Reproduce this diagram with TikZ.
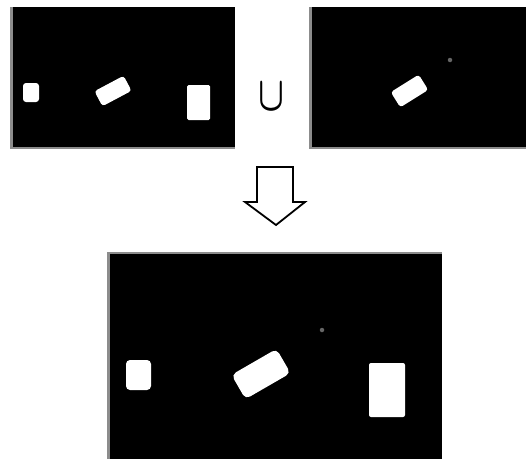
\documentclass[tikz,border=0pt]{standalone}
\begin{document}
\begin{tikzpicture}[x=1pt,y=1pt,
  panel/.style={fill=black,draw=none},
  rim/.style={fill=black!45,draw=none},
  blob/.style={fill=white,draw=none,rounded corners=3pt,inner sep=0pt,outer sep=0pt},
  speck/.style={fill=black!60,draw=none,circle,inner sep=0pt,minimum size=4.5pt},
  bigarrow/.style={draw=black,line width=1.8pt,fill=white,line join=miter}]
\useasboundingbox (0,0) rectangle (526,459);
\fill[white] (0,0) rectangle (526,459);
% top-left panel
\fill[rim] (10,310) rectangle (235,452);
\fill[panel] (12.5,312.5) rectangle (235,452);
\node[blob,minimum width=16pt,minimum height=19pt] (a1) at (31,366.5) {};
\node[blob,minimum width=33pt,minimum height=17pt,rotate=28] (a2) at (113,368) {};
\node[blob,minimum width=23pt,minimum height=35pt,rounded corners=1.5pt] (a3) at (198.5,356.5) {};
% union sign
\node[inner sep=0pt] (cup) at (271.5,362) {\resizebox{26pt}{27pt}{\boldmath$\cup$}};
% top-right panel
\fill[rim] (309,310) rectangle (526,452);
\fill[panel] (311.5,312.5) rectangle (526,452);
\node[blob,minimum width=33pt,minimum height=18pt,rotate=32] (b1) at (409.5,368) {};
\node[speck] (b2) at (450,399) {};
% arrow
\draw[bigarrow] (257,292) -- (293,292) -- (293,257) -- (305,257) -- (276,234) -- (245,257) -- (257,257) -- cycle;
% bottom panel
\fill[rim] (107,0) rectangle (442,207);
\fill[panel] (109.5,0) rectangle (442,205.5);
\node[blob,minimum width=25pt,minimum height=30pt,rounded corners=4pt] (c1) at (138.5,84) {};
\node[blob,minimum width=52pt,minimum height=28pt,rotate=30,rounded corners=5pt] (c2) at (261,85) {};
\node[blob,minimum width=36pt,minimum height=54pt,rounded corners=2pt] (c3) at (387,69) {};
\node[speck] (c4) at (322,129) {};
\end{tikzpicture}
\end{document}
